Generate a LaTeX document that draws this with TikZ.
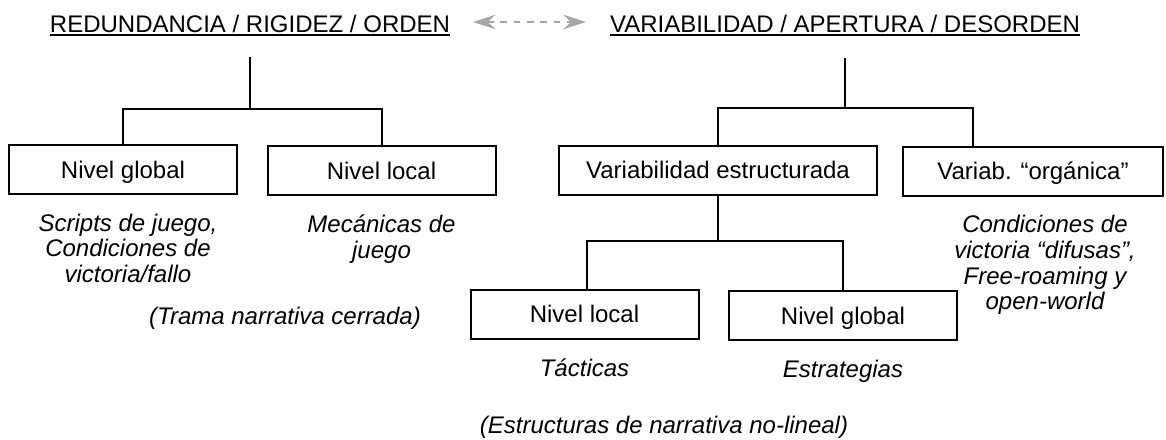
\documentclass[tikz,border=0pt]{standalone}
\usepackage{fontspec}
\setmainfont{Liberation Sans}
\usetikzlibrary{positioning,arrows.meta}

\tikzset{
  titulo/.style={inner sep=0pt, font=\fontsize{18}{19}\selectfont},
  nivel/.style={draw, line width=1.5pt, minimum width=171pt, minimum height=36.75pt,
    inner sep=0pt, text height=12.9pt, text depth=0pt, font=\fontsize{18}{19}\selectfont},
  nota/.style={align=center, inner sep=0pt, font=\fontsize{18}{19.25}\selectfont\itshape},
  rama/.style={line width=1.5pt},
  subrayado/.style={line width=1.3pt},
  flecha/.style={gray!70, line width=1.2pt, dash pattern=on 5pt off 5pt,
    {Stealth[length=17pt, width=11pt, inset=6pt]}-{Stealth[length=17pt, width=11pt, inset=6pt]}},
}

\begin{document}
\begin{tikzpicture}[x=0.75pt, y=-0.75pt, node distance=14pt]
      \useasboundingbox (0,0) rectangle (1166,439);
      \node[titulo, anchor=base] (rig) at (250,32) {REDUNDANCIA / RIGIDEZ / ORDEN};
      \node[titulo, anchor=base] (var) at (845,32) {VARIABILIDAD / APERTURA / DESORDEN};

      \node[nivel] (glob1) at (123,169.5) {Nivel global};
      \node[nivel] (loc1) at (381.5,170.5) {Nivel local};
      \node[nivel, minimum width=238.5pt] (varest) at (718,170) {Variabilidad estructurada};
      \node[nivel, minimum width=195pt] (org) at (1033,171) {Variab. “orgánica”};
      \node[nivel] (loc2) at (584.5,314) {Nivel local};
      \node[nivel] (glob2) at (843,315.5) {Nivel global};

      \node[nota, below=of glob1, xshift=3.75pt] (scripts) {Scripts de juego,\\Condiciones de\\victoria/fallo};
      \node[nota, below=of loc1] (mec) {Mecánicas de\\juego};
      \node[nota, below=of org, xshift=9pt] (difus) {Condiciones de\\victoria “difusas”,\\Free-roaming y\\open-world};
      \node[nota, below=of loc2] (tact) {Tácticas};
      \node[nota, below=of glob2] (estr) {Estrategias};
      \node[nota, anchor=base] (trama) at (285,324) {(Trama narrativa cerrada)};
      \node[nota, anchor=base] (nolin) at (664,433) {(Estructuras de narrativa no-lineal)};

      \coordinate (jrig) at (250,109);
      \coordinate (jvar) at (845,108);
      \coordinate (jest) at (718,241);

      \draw[subrayado] ([yshift=-2.25pt]rig.base west) -- ([yshift=-2.25pt]rig.base east);
      \draw[subrayado] ([yshift=-2.25pt]var.base west) -- ([yshift=-2.25pt]var.base east);
      \draw[flecha] ([xshift=17pt, yshift=7.5pt]rig.base east) -- ([xshift=-18pt, yshift=7.5pt]var.base west);

      \draw[rama] ([yshift=-18.75pt]rig.base) -- (jrig);
      \draw[rama] (glob1.north) |- (jrig) -| (loc1.north);
      \draw[rama] ([yshift=-19.5pt]var.base) -- (jvar);
      \draw[rama] (varest.north) |- (jvar) -| ([xshift=-45pt]org.north);
      \draw[rama] (varest) -- (jest);
      \draw[rama] ([xshift=1.5pt]loc2.north) |- (jest) -| (glob2.north);
    \end{tikzpicture}
\end{document}
